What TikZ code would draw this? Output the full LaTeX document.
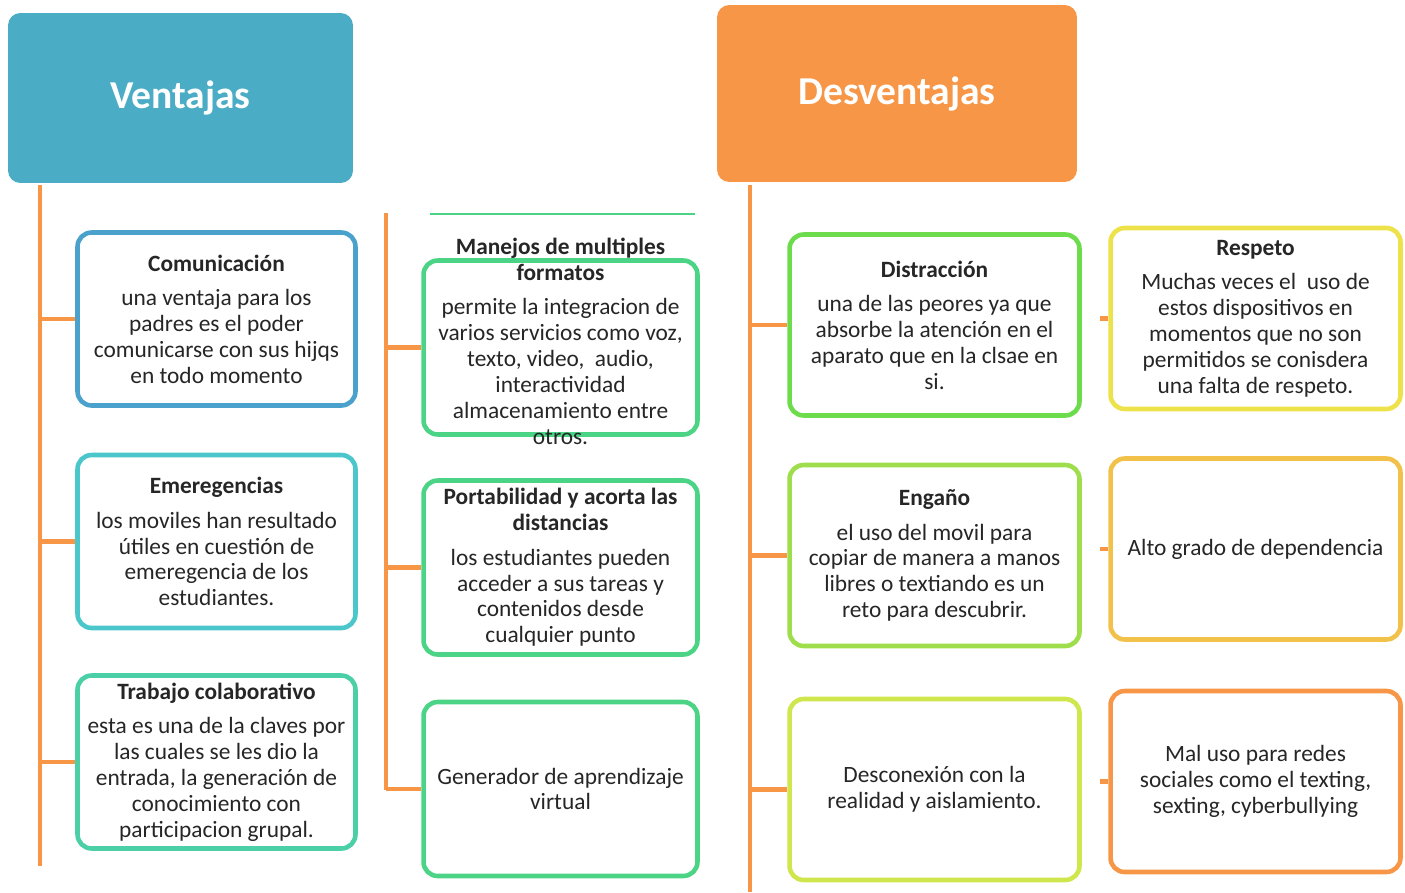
\documentclass[tikz,border=0pt]{standalone}
\usepackage{fontspec}
\setmainfont{Carlito}
\definecolor{ventblue}{HTML}{4BACC6}
\definecolor{desorange}{HTML}{F79646}
\definecolor{bordeA}{HTML}{4AA2CC}
\definecolor{bordeB}{HTML}{4BC7CC}
\definecolor{bordeC}{HTML}{4BCFA6}
\definecolor{bordeD}{HTML}{4CD486}
\definecolor{bordeE}{HTML}{6CDC4C}
\definecolor{bordeF}{HTML}{9EDD4C}
\definecolor{bordeG}{HTML}{CFE74C}
\definecolor{bordeH}{HTML}{EDE24A}
\definecolor{bordeI}{HTML}{F2C14A}
\definecolor{texto}{HTML}{262626}
\tikzset{
  head/.style={fill=#1, rounded corners=7pt, text=white,
    font=\fontsize{22.5}{26}\selectfont\bfseries},
  cell/.style={draw=#1, line width=2.6pt, rounded corners=8pt, fill=white,
    align=center, text=texto, inner sep=1pt,
    font=\fontsize{13.3}{14.7}\selectfont},
  colL/.style={minimum width=5.56cm, minimum height=3.46cm},
  colM/.style={minimum width=5.48cm, minimum height=3.48cm},
  colR/.style={minimum width=5.8cm, minimum height=3.62cm},
  trunk/.style={draw=desorange, line width=2.8pt},
}
\begin{document}
\begin{tikzpicture}[x=0.02cm, y=-0.02cm, line join=round]
  \useasboundingbox (0,0) rectangle (1405,892);
  % Cabeceras
  \node[head=ventblue, minimum width=6.9cm, minimum height=3.4cm] (vent) at (180.5,98) {Ventajas};
  \node[head=desorange, minimum width=7.2cm, minimum height=3.54cm] (desv) at (897,93.5) {Desventajas};
  % Troncos
  \coordinate (tA1) at (40,185);  \coordinate (tA2) at (40,866);
  \coordinate (tB1) at (386,213); \coordinate (tB2) at (386,790);
  \coordinate (tC1) at (750,185); \coordinate (tC2) at (750,892);
  \coordinate (tD) at (1100,0);
  \draw[trunk] (tA1) -- (tA2);
  \draw[trunk] (tB1) -- (tB2);
  \draw[trunk] (tC1) -- (tC2);
  % Ventajas, primera columna
  \node[cell=bordeA, colL] (comun) at (216.5,319)
    {\textbf{Comunicación}\\[5pt] una ventaja para los\\ padres es el poder\\ comunicarse con sus hijqs\\ en todo momento};
  \node[cell=bordeB, colL] (emerg) at (216.5,541.5)
    {\textbf{Emeregencias}\\[5pt] los moviles han resultado\\ útiles en cuestión de\\ emeregencia de los\\ estudiantes.};
  \node[cell=bordeC, colL] (trab) at (216.5,762)
    {\textbf{Trabajo colaborativo}\\[5pt] esta es una de la claves por\\ las cuales se les dio la\\ entrada, la generación de\\ conocimiento con\\ participacion grupal.};
  % Ventajas, segunda columna
  \draw[bordeD, line width=1.2pt] (430,214) -- (695,214);
  \node[cell=bordeD, colM] (manej) at (560.5,347.5)
    {\smash{\parbox{5.2cm}{\centering\textbf{Manejos de multiples\\ formatos}\\[5pt] permite la integracion de\\ varios servicios como voz,\\ texto, video,\ \ audio,\\ interactividad\\ almacenamiento entre\\ otros.}}};
  \node[cell=bordeD, colM] (port) at (560.5,567.5)
    {\textbf{Portabilidad y acorta las}\\ \textbf{distancias}\\[5pt] los estudiantes pueden\\ acceder a sus tareas y\\ contenidos desde\\ cualquier punto};
  \node[cell=bordeD, colM] (gener) at (560.5,789)
    {Generador de aprendizaje\\ virtual};
  % Desventajas
  \node[cell=bordeE, colR] (distr) at (934.5,325)
    {\textbf{Distracción}\\[5pt] una de las peores ya que\\ absorbe la atención en el\\ aparato que en la clsae en\\ si.};
  \node[cell=bordeF, colR] (engan) at (934.5,555.5)
    {\textbf{Engaño}\\[5pt] el uso del movil para\\ copiar de manera a manos\\ libres o textiando es un\\ reto para descubrir.};
  \node[cell=bordeG, colR] (desco) at (934.5,789.5)
    {Desconexión con la\\ realidad y aislamiento.};
  \node[cell=bordeH, colR] (resp) at (1255.5,318.5)
    {\textbf{Respeto}\\[5pt] Muchas veces el\ \ uso de\\ estos dispositivos en\\ momentos que no son\\ permitidos se conisdera\\ una falta de respeto.};
  \node[cell=bordeI, colR] (alto) at (1255.5,549)
    {Alto grado de dependencia};
  \node[cell=desorange, colR] (malu) at (1255.5,781.5)
    {Mal uso para redes\\ sociales como el texting,\\ sexting, cyberbullying};
  % Ramas
  \foreach \n in {comun,emerg,trab}{\draw[trunk] (tA1 |- \n.west) -- (\n.west);}
  \foreach \n in {manej,port,gener}{\draw[trunk] (tB1 |- \n.west) -- (\n.west);}
  \foreach \n in {distr,engan,desco}{\draw[trunk] (tC1 |- \n.west) -- (\n.west);}
  \foreach \n in {resp,alto,malu}{\draw[trunk] (tD |- \n.west) -- (\n.west);}
\end{tikzpicture}
\end{document}
